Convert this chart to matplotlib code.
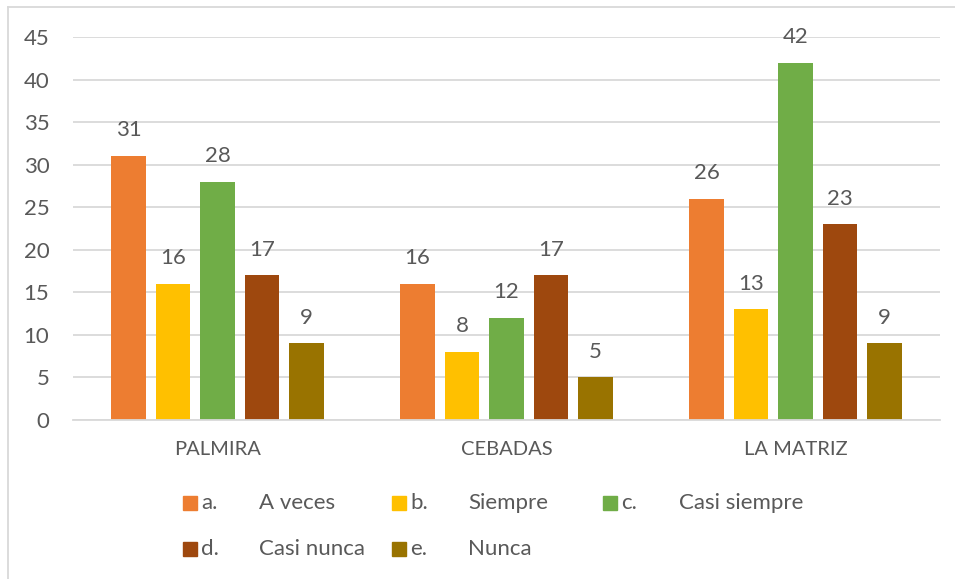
import matplotlib
matplotlib.use("Agg")
import matplotlib.pyplot as plt
import numpy as np
from matplotlib.patches import Rectangle
from matplotlib.lines import Line2D

plt.rcParams['font.family'] = ['Lato', 'DejaVu Sans']

# datos
lugares = ["PALMIRA", "CEBADAS", "LA MATRIZ"]
letras = ["a.", "b.", "c.", "d.", "e."]
respuestas = ["A veces", "Siempre", "Casi siempre", "Casi nunca", "Nunca"]
a_veces = [31, 16, 26]
siempre = [16, 8, 13]
casi_siempre = [28, 12, 42]
casi_nunca = [17, 17, 23]
nunca = [9, 5, 9]

series = [a_veces, siempre, casi_siempre, casi_nunca, nunca]
colores = ["#ED7D31", "#FFC000", "#70AD47", "#9E480E", "#997300"]
gris = "#595959"
linea = "#D9D9D9"

W, H = 955, 579
fig = plt.figure(figsize=(W / 100, H / 100), dpi=100)
ax = fig.add_axes([73 / W, 1 - 420 / H, 867 / W, 383 / H])

x = np.arange(len(lugares))
ancho = 0.121
paso = 0.154
for i, (vals, col) in enumerate(zip(series, colores)):
    pos = x + (i - 2) * paso
    barras = ax.bar(pos, vals, ancho, color=col, zorder=3)
    for b, v in zip(barras, vals):
        ax.annotate(str(v), (b.get_x() + b.get_width() / 2, v),
                    xytext=(0, 18.5), textcoords="offset points",
                    ha="center", va="center", fontsize=16, color=gris)

ax.set_xlim(-0.5, 2.5)
ax.set_ylim(0, 45)
ax.set_yticks(range(0, 46, 5))
ax.set_xticks(x)
ax.set_xticklabels(lugares)
ax.tick_params(axis="both", length=0, labelcolor=gris)
ax.tick_params(axis="y", pad=17, labelsize=16)
ax.tick_params(axis="x", pad=15, labelsize=14.5)
ax.grid(axis="y", color=linea, linewidth=1.3, zorder=0)
for s in ["top", "right", "left"]:
    ax.spines[s].set_visible(False)
ax.spines["bottom"].set_color(linea)
ax.spines["bottom"].set_linewidth(1.3)
ax.spines["bottom"].set_zorder(4)

# leyenda a mano (dos filas, tres columnas)
col_x = [183, 392, 603]
fila_y = [503, 549]
for i, (let, txt, col) in enumerate(zip(letras, respuestas, colores)):
    cx = col_x[i % 3]
    cy = fila_y[i // 3]
    fig.patches.append(Rectangle((cx / W, 1 - (cy + 7) / H), 14 / W, 14 / H,
                                 transform=fig.transFigure, color=col))
    fig.text((cx + 18) / W, 1 - cy / H, let, fontsize=16, color=gris, va="center")
    fig.text((cx + 76) / W, 1 - cy / H, txt, fontsize=16, color=gris, va="center")

# marco
fig.add_artist(Line2D([8 / W, 8 / W], [0, 1 - 7 / H], color=linea, lw=1.3,
                      transform=fig.transFigure))
fig.add_artist(Line2D([8 / W, 1], [1 - 7 / H, 1 - 7 / H], color=linea, lw=1.3,
                      transform=fig.transFigure))

fig.savefig("out.png", dpi=100)
